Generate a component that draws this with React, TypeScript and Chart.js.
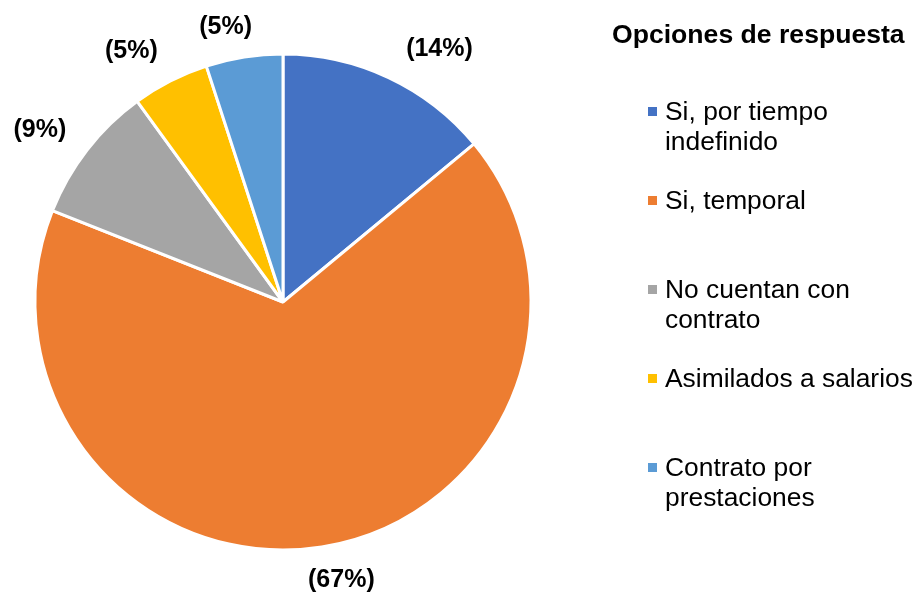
import React, { useEffect, useRef } from "react";
import { Chart, registerables } from "chart.js";

Chart.register(...registerables);

const categories = [
  "Si, por tiempo indefinido",
  "Si, temporal",
  "No cuentan con contrato",
  "Asimilados a salarios",
  "Contrato por prestaciones",
];
const values = [14, 67, 9, 5, 5];
const valueLabels = ["(14%)", "(67%)", "(9%)", "(5%)", "(5%)"];
const legendTitle = "Opciones de respuesta";

const colors = ["#4472C4", "#ED7D31", "#A5A5A5", "#FFC000", "#5B9BD5"];
// label nudges (style): offset from the default outside position of each slice
const labelNudge: [number, number][] = [
  [33, 10],
  [13, -8],
  [-14, 6],
  [-20, 8],
  [-12, 12],
];

const FONT = "'Liberation Sans', Arial, sans-serif";

function wrap(ctx: CanvasRenderingContext2D, text: string, maxW: number): string[] {
  const words = text.split(" ");
  const lines: string[] = [];
  let cur = "";
  for (const w of words) {
    const t = cur ? cur + " " + w : w;
    if (ctx.measureText(t).width > maxW && cur) {
      lines.push(cur);
      cur = w;
    } else cur = t;
  }
  if (cur) lines.push(cur);
  return lines;
}

const overlay = {
  id: "overlay",
  afterDraw(chart: any) {
    const ctx: CanvasRenderingContext2D = chart.ctx;
    const meta = chart.getDatasetMeta(0);
    ctx.save();
    // data labels
    ctx.font = `bold 25px ${FONT}`;
    ctx.fillStyle = "#000";
    ctx.textAlign = "center";
    ctx.textBaseline = "middle";
    meta.data.forEach((arc: any, i: number) => {
      const { x, y, startAngle, endAngle, outerRadius } = arc.getProps(
        ["x", "y", "startAngle", "endAngle", "outerRadius"],
        true
      );
      const mid = (startAngle + endAngle) / 2;
      const d = outerRadius + 42;
      const lx = x + Math.cos(mid) * d + labelNudge[i][0];
      const ly = y + Math.sin(mid) * d + labelNudge[i][1];
      ctx.fillText(valueLabels[i], lx, ly);
    });
    // legend
    ctx.textAlign = "left";
    ctx.textBaseline = "alphabetic";
    ctx.font = `bold 26.6px ${FONT}`;
    ctx.fillText(legendTitle, 612, 43);
    ctx.font = `26.4px ${FONT}`;
    categories.forEach((c, i) => {
      const base = 120 + i * 89;
      ctx.fillStyle = colors[i];
      ctx.fillRect(648, base - 13, 9, 9);
      ctx.fillStyle = "#000";
      const lines = wrap(ctx, c, 256);
      lines.forEach((ln, j) => ctx.fillText(ln, 665, base + j * 30));
    });
    ctx.restore();
  },
};

export default function App() {
  const ref = useRef<HTMLCanvasElement | null>(null);
  useEffect(() => {
    if (!ref.current) return;
    const chart = new Chart(ref.current, {
      type: "pie",
      data: {
        labels: categories,
        datasets: [
          {
            data: values,
            backgroundColor: colors,
            borderColor: "#ffffff",
            borderWidth: 3,
          },
        ],
      },
      options: {
        responsive: false,
        animation: false,
        radius: 248,
        layout: { padding: { left: 35, right: 385, top: 54, bottom: 45 } },
        plugins: { legend: { display: false }, tooltip: { enabled: false } },
      } as any,
      plugins: [overlay],
    });
    return () => chart.destroy();
  }, []);
  return (
    <div style={{ position: "absolute", left: 0, top: 0, width: 916, height: 595, background: "#fff" }}>
      <canvas ref={ref} width={916} height={595} />
    </div>
  );
}
